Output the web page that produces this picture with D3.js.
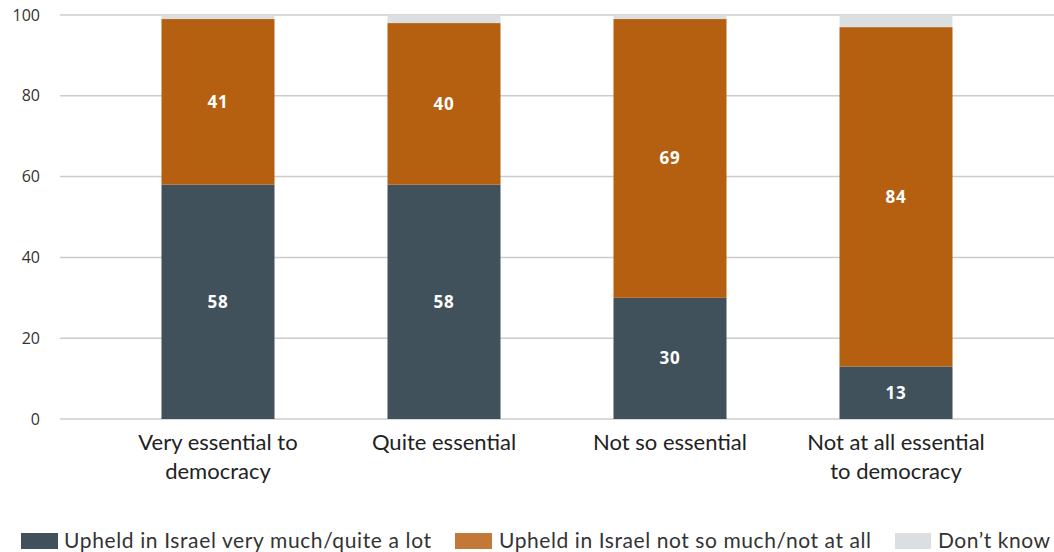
<!DOCTYPE html>
<html>
<head>
<meta charset="utf-8">
<script src="https://cdn.jsdelivr.net/npm/d3@7"></script>
<style>
  html, body { margin: 0; padding: 0; background: #fff; }
  svg { display: block; }
</style>
</head>
<body>
<svg id="chart" width="1054" height="552"></svg>
<script>
// Categories (two-line labels) and stacked series values (%)
const categories = [
  ["Very essential to", "democracy"],
  ["Quite essential"],
  ["Not so essential"],
  ["Not at all essential", "to democracy"]
];
const upheld = [58, 58, 30, 13];
const notUpheld = [41, 40, 69, 84];
const dontKnow = [1, 2, 1, 3];
const seriesNames = [
  "Upheld in Israel very much/quite a lot",
  "Upheld in Israel not so much/not at all",
  "Don\u2019t know"
];
const yTicks = [0, 20, 40, 60, 80, 100];

const colors = ["#40515b", "#b55f11", "#dbdfe2"];
const legendColors = ["#40515b", "#c47838", "#dbdfe2"];

const svg = d3.select("#chart");
const keys = ["a", "b", "c"];
const rows = categories.map((c, i) => ({ idx: i, a: upheld[i], b: notUpheld[i], c: dontKnow[i] }));

const x = d3.scaleBand()
  .domain(d3.range(categories.length))
  .range([105, 1009])
  .paddingInner(0.5)
  .paddingOuter(0.25);

const y = d3.scaleLinear().domain([0, 100]).range([419, 15]);

// Gridlines
svg.append("g")
  .selectAll("line")
  .data(yTicks)
  .join("line")
  .attr("x1", 60).attr("x2", 1054)
  .attr("y1", d => y(d)).attr("y2", d => y(d))
  .attr("stroke", "#cccccc")
  .attr("stroke-width", 1.5);

// Y axis labels
const yAxis = d3.axisLeft(y).tickValues(yTicks).tickSize(0).tickPadding(0);
const yG = svg.append("g").attr("transform", "translate(40,0)").call(yAxis);
yG.select(".domain").remove();
yG.selectAll("text")
  .attr("font-family", "'Open Sans', sans-serif")
  .attr("font-size", 16)
  .attr("fill", "#333");

// Stacked bars
const stack = d3.stack().keys(keys)(rows);
svg.append("g")
  .selectAll("g")
  .data(stack)
  .join("g")
  .attr("fill", (d, i) => colors[i])
  .selectAll("rect")
  .data(d => d)
  .join("rect")
  .attr("x", d => x(d.data.idx))
  .attr("width", x.bandwidth())
  .attr("y", d => y(d[1]))
  .attr("height", d => y(d[0]) - y(d[1]));

// Value labels (first two series)
stack.slice(0, 2).forEach(s => {
  svg.append("g")
    .selectAll("text")
    .data(s)
    .join("text")
    .attr("x", d => x(d.data.idx) + x.bandwidth() / 2)
    .attr("y", d => y((d[0] + d[1]) / 2))
    .attr("dy", "0.35em")
    .attr("text-anchor", "middle")
    .attr("font-family", "'Open Sans', sans-serif")
    .attr("font-weight", "bold")
    .attr("font-size", 17)
    .attr("letter-spacing", "0.8px")
    .attr("fill", "#fff")
    .text(d => d[1] - d[0]);
});

// Category labels
const xG = svg.append("g");
categories.forEach((lines, i) => {
  const cx = x(i) + x.bandwidth() / 2;
  const t = xG.append("text")
    .attr("x", cx)
    .attr("y", 450)
    .attr("text-anchor", "middle")
    .attr("font-family", "Lato, sans-serif")
    .attr("font-size", 22)
    .attr("fill", "#222");
  lines.forEach((ln, j) => {
    t.append("tspan")
      .attr("x", cx)
      .attr("dy", j === 0 ? 0 : 29)
      .text(ln);
  });
});

// Legend
const legendItems = [
  { sx: 21, sw: 37, tx: 64, tw: 367 },
  { sx: 455, sw: 37, tx: 499, tw: 372 },
  { sx: 895, sw: 36, tx: 938, tw: 112 }
];
const lg = svg.append("g");
legendItems.forEach((it, i) => {
  lg.append("rect")
    .attr("x", it.sx).attr("y", 533)
    .attr("width", it.sw).attr("height", 16)
    .attr("fill", legendColors[i]);
  lg.append("text")
    .attr("x", it.tx).attr("y", 548)
    .attr("font-family", "Lato, sans-serif")
    .attr("font-size", 21)
    .attr("fill", "#333")
    .attr("textLength", it.tw)
    .attr("lengthAdjust", "spacing")
    .text(seriesNames[i]);
});
</script>
</body>
</html>
